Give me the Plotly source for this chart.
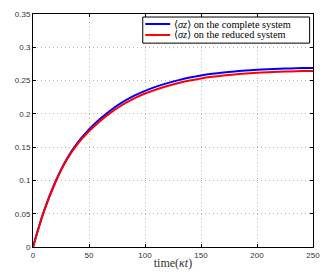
import plotly.graph_objects as go

t = [0, 10, 20, 30, 40, 50, 60, 70, 80, 90, 100, 110, 120, 130, 140, 150,
     160, 170, 180, 190, 200, 210, 220, 230, 240, 250]
complete = [0, 0.055, 0.098, 0.132, 0.157, 0.1765, 0.1925, 0.2062, 0.2176, 0.2270,
            0.2346, 0.2409, 0.2462, 0.2507, 0.2545, 0.2577, 0.2602, 0.2622, 0.2638,
            0.2651, 0.2662, 0.2671, 0.2678, 0.2683, 0.2687, 0.2690]
reduced = [0, 0.0548, 0.0973, 0.1307, 0.1552, 0.1738, 0.1893, 0.2026, 0.2137, 0.2229,
           0.2305, 0.2367, 0.2419, 0.2463, 0.2500, 0.2532, 0.2557, 0.2577, 0.2593,
           0.2606, 0.2617, 0.2626, 0.2633, 0.2638, 0.2642, 0.2645]
series_names = ["⟨<i>σz</i>⟩ on the complete system",
                "⟨<i>σz</i>⟩ on the reduced system"]
series_colors = ["#0000FF", "#FF0000"]
xticks = [0, 50, 100, 150, 200, 250]
yticks = [0, 0.05, 0.1, 0.15, 0.2, 0.25, 0.3, 0.35]
ytick_labels = ["0", "0.05", "0.1", "0.15", "0.2", "0.25", "0.3", "0.35"]

serif = "Liberation Serif, DejaVu Serif, serif"
sans = "Liberation Sans, Arial, sans-serif"

fig = go.Figure()
for ys, name, col in zip([complete, reduced], series_names, series_colors):
    fig.add_trace(go.Scatter(x=t, y=ys, mode="lines", line_shape="spline",
                             line=dict(color=col, width=2), name=name,
                             showlegend=False))

axis_common = dict(showline=True, linecolor="black", linewidth=1, mirror="ticks",
                   ticks="inside", ticklen=3, tickcolor="black",
                   showgrid=True, gridcolor="#b4b4b4", griddash="1px,3px", gridwidth=1,
                   zeroline=False, automargin=False,
                   tickfont=dict(family=sans, size=8, color="#333333"))

fig.update_xaxes(range=[0, 250], tickvals=xticks,
                 title=dict(text="time(<i>κt</i>)",
                            font=dict(family=serif, size=12, color="#333333"),
                            standoff=0),
                 **axis_common)
fig.update_yaxes(range=[0, 0.35], tickvals=yticks, ticktext=ytick_labels, **axis_common)

# manual legend box (MATLAB style)
fig.add_shape(type="rect", xref="x domain", yref="y domain",
              x0=0.392, x1=0.988, y0=0.875, y1=0.987,
              line=dict(color="black", width=1), fillcolor="white", layer="above")
legend_y = [0.957, 0.91]
for ly, name, col in zip(legend_y, series_names, series_colors):
    fig.add_shape(type="line", xref="x domain", yref="y domain",
                  x0=0.401, x1=0.49, y0=ly, y1=ly,
                  line=dict(color=col, width=2), layer="above")
    fig.add_annotation(xref="x domain", yref="y domain", x=0.497, y=ly,
                       xanchor="left", yanchor="middle", showarrow=False,
                       text=name, font=dict(family=serif, size=10.3, color="black"))

# page body has an 8px default margin, so the figure is offset by 8px
fig.update_layout(width=322, height=267,
                  margin=dict(l=25.3, r=16.7, t=6, b=28.3),
                  paper_bgcolor="white", plot_bgcolor="white",
                  showlegend=False)
fig.write_html("out.html")
